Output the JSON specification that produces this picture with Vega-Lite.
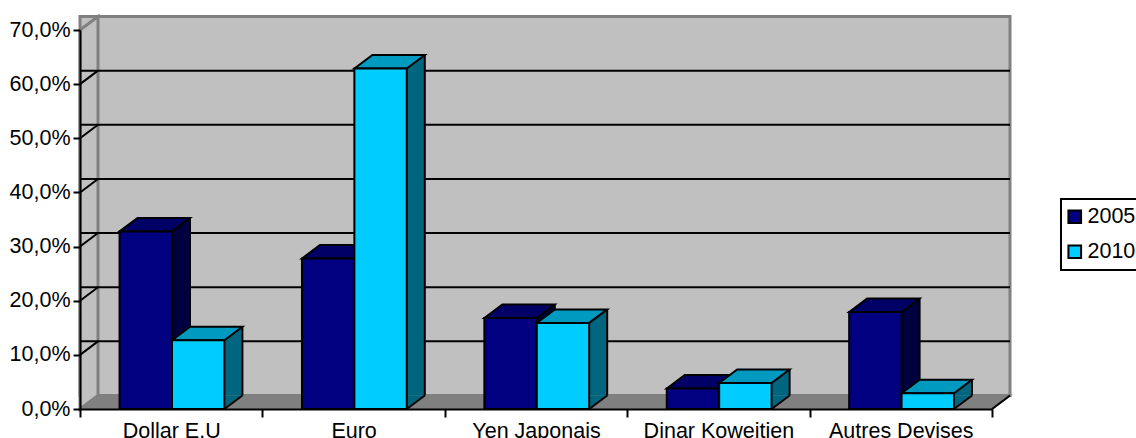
{
  "$schema": "https://vega.github.io/schema/vega-lite/v6.json",
  "width": 912,
  "height": 379,
  "autosize": {"type": "none"},
  "padding": {"left": 80, "top": 30, "right": 144, "bottom": 29},
  "background": "white",
  "config": {
    "view": {"stroke": null},
    "font": "Liberation Sans",
    "axis": {"labelFont": "Liberation Sans", "labelColor": "black", "labelFontSize": 21.5, "domainColor": "black", "tickColor": "black", "domainWidth": 2, "tickWidth": 2, "title": null, "grid": false},
    "legend": {"labelFont": "Liberation Sans", "labelColor": "black", "labelFontSize": 21.5, "strokeWidth": 2}
  },
  "datasets": {
    "shares": [
      {"devise": "Dollar E.U", "annee": "2005", "part": 32.8},
      {"devise": "Dollar E.U", "annee": "2010", "part": 12.7},
      {"devise": "Euro", "annee": "2005", "part": 27.8},
      {"devise": "Euro", "annee": "2010", "part": 62.9},
      {"devise": "Yen Japonais", "annee": "2005", "part": 16.8},
      {"devise": "Yen Japonais", "annee": "2010", "part": 15.9},
      {"devise": "Dinar Koweitien", "annee": "2005", "part": 3.8},
      {"devise": "Dinar Koweitien", "annee": "2010", "part": 4.8},
      {"devise": "Autres Devises", "annee": "2005", "part": 17.9},
      {"devise": "Autres Devises", "annee": "2010", "part": 2.9}
    ],
    "levels": [{"level": 10}, {"level": 20}, {"level": 30}, {"level": 40}, {"level": 50}, {"level": 60}],
    "frame": [{"bottom": 0, "top": 70}]
  },
  "data": {"name": "shares"},
  "layer": [
    {
      "data": {"name": "frame"},
      "mark": {"type": "rect", "fill": "#c0c0c0", "stroke": "#808080", "strokeWidth": 3, "xOffset": 18, "x2Offset": 18, "yOffset": -13.5, "y2Offset": -13.5},
      "encoding": {
        "y": {"field": "bottom", "type": "quantitative", "scale": {"domain": [0, 70], "nice": false}, "axis": {"values": [0, 10, 20, 30, 40, 50, 60, 70], "tickSize": 7, "labelPadding": 3, "zindex": 1, "labelExpr": "replace(format(datum.value, '.1f'), '.', ',') + '%'"}},
        "y2": {"field": "top"}
      }
    },
    {
      "data": {"name": "frame"},
      "mark": {"type": "point", "filled": true, "opacity": 1, "size": 4, "fill": "#c0c0c0", "stroke": "#808080", "strokeWidth": 3, "shape": "M0,0 L18,-13.5 L18,-392.5 L0,-379 Z"},
      "encoding": {
        "x": {"datum": "Dollar E.U", "type": "nominal", "bandPosition": 0},
        "y": {"field": "bottom", "type": "quantitative"}
      }
    },
    {
      "data": {"name": "frame"},
      "mark": {"type": "point", "filled": true, "opacity": 1, "size": 4, "fill": "#808080", "stroke": "#808080", "strokeWidth": 2, "shape": "M0,0 L18,-13.5 L930,-13.5 L912,0 Z"},
      "encoding": {
        "x": {"datum": "Dollar E.U", "type": "nominal", "bandPosition": 0},
        "y": {"field": "bottom", "type": "quantitative"}
      }
    },
    {
      "data": {"name": "frame"},
      "mark": {"type": "point", "filled": false, "opacity": 1, "size": 4, "stroke": "black", "strokeWidth": 2, "shape": "M0,0 L18,-13.5"},
      "encoding": {
        "x": {"datum": "Autres Devises", "type": "nominal", "bandPosition": 1},
        "y": {"field": "bottom", "type": "quantitative"}
      }
    },
    {
      "data": {"name": "levels"},
      "mark": {"type": "rule", "stroke": "black", "strokeWidth": 2, "xOffset": 18, "x2Offset": 18, "yOffset": -13.5},
      "encoding": {"y": {"field": "level", "type": "quantitative"}}
    },
    {
      "data": {"name": "levels"},
      "mark": {"type": "point", "filled": false, "opacity": 1, "size": 4, "stroke": "black", "strokeWidth": 2, "shape": "M0,0 L18,-13.5"},
      "encoding": {
        "x": {"datum": "Dollar E.U", "type": "nominal", "bandPosition": 0},
        "y": {"field": "level", "type": "quantitative"}
      }
    },
    {
      "transform": [{"filter": "datum.annee === '2005'"}],
      "encoding": {
        "x": {"field": "devise", "type": "nominal", "scale": {"domain": ["Dollar E.U", "Euro", "Yen Japonais", "Dinar Koweitien", "Autres Devises"], "paddingInner": 0, "paddingOuter": 0}, "axis": {"tickBand": "extent", "labelAngle": 0, "labelAlign": "center", "tickSize": 8, "labelPadding": 14, "zindex": 1, "title": null}},
        "xOffset": {"field": "annee", "type": "nominal", "scale": {"domain": ["2005", "2010"], "paddingInner": 0, "paddingOuter": 0.74, "align": 0.51}}
      },
      "layer": [
        {
          "mark": {"type": "rule", "yOffset": -13.5, "y2Offset": -13.5, "stroke": "#000040", "strokeWidth": 18},
          "encoding": {"xOffset": {"value": 101}, "y": {"field": "part", "type": "quantitative"}, "y2": {"datum": 0}}
        },
        {
          "mark": {"type": "rule", "yOffset": -13.5, "y2Offset": -13.5, "stroke": "black", "strokeWidth": 2},
          "encoding": {"xOffset": {"value": 110}, "y": {"field": "part", "type": "quantitative"}, "y2": {"datum": 0}}
        },
        {
          "mark": {"type": "point", "filled": true, "opacity": 1, "size": 4, "fill": "#000040", "strokeWidth": 0, "shape": "M44.2,-13.5 L26.2,0 L26.2,-13.5 Z"},
          "encoding": {"y": {"datum": 0, "type": "quantitative"}}
        },
        {
          "mark": {"type": "point", "filled": false, "opacity": 1, "size": 4, "stroke": "black", "strokeWidth": 2, "shape": "M26.2,0 L44.2,-13.5"},
          "encoding": {"y": {"datum": 0, "type": "quantitative"}}
        },
        {
          "mark": {"type": "point", "filled": true, "opacity": 1, "size": 4, "fill": "#000066", "stroke": "black", "strokeWidth": 2, "shape": "M-26.2,0 L-8.2,-13.5 L44.2,-13.5 L26.2,0 Z"},
          "encoding": {"y": {"field": "part", "type": "quantitative"}}
        },
        {
          "mark": {"type": "bar", "stroke": "black", "strokeWidth": 2},
          "encoding": {
            "y": {"field": "part", "type": "quantitative"},
            "fill": {"field": "annee", "type": "nominal", "scale": {"domain": ["2005", "2010"], "range": ["#000080", "#00ccff"]}, "legend": {"title": null, "orient": "none", "legendX": 981, "legendY": 169, "symbolType": "square", "symbolSize": 160, "symbolStrokeColor": "black", "symbolStrokeWidth": 2, "symbolOpacity": 1, "symbolOffset": -4, "strokeColor": "black", "padding": 7, "rowPadding": 12, "labelOffset": 2, "fillColor": "white"}}
          }
        }
      ]
    },
    {
      "transform": [{"filter": "datum.annee === '2010'"}],
      "encoding": {
        "x": {"field": "devise", "type": "nominal"},
        "xOffset": {"field": "annee", "type": "nominal"}
      },
      "layer": [
        {
          "mark": {"type": "rule", "yOffset": -13.5, "y2Offset": -13.5, "stroke": "#006680", "strokeWidth": 18},
          "encoding": {"xOffset": {"value": 153.4}, "y": {"field": "part", "type": "quantitative"}, "y2": {"datum": 0}}
        },
        {
          "mark": {"type": "rule", "yOffset": -13.5, "y2Offset": -13.5, "stroke": "black", "strokeWidth": 2},
          "encoding": {"xOffset": {"value": 162.4}, "y": {"field": "part", "type": "quantitative"}, "y2": {"datum": 0}}
        },
        {
          "mark": {"type": "point", "filled": true, "opacity": 1, "size": 4, "fill": "#006680", "strokeWidth": 0, "shape": "M44.2,-13.5 L26.2,0 L26.2,-13.5 Z"},
          "encoding": {"y": {"datum": 0, "type": "quantitative"}}
        },
        {
          "mark": {"type": "point", "filled": false, "opacity": 1, "size": 4, "stroke": "black", "strokeWidth": 2, "shape": "M26.2,0 L44.2,-13.5"},
          "encoding": {"y": {"datum": 0, "type": "quantitative"}}
        },
        {
          "mark": {"type": "point", "filled": true, "opacity": 1, "size": 4, "fill": "#0099bf", "stroke": "black", "strokeWidth": 2, "shape": "M-26.2,0 L-8.2,-13.5 L44.2,-13.5 L26.2,0 Z"},
          "encoding": {"y": {"field": "part", "type": "quantitative"}}
        },
        {
          "mark": {"type": "bar", "stroke": "black", "strokeWidth": 2},
          "encoding": {
            "y": {"field": "part", "type": "quantitative"},
            "fill": {"field": "annee", "type": "nominal"}
          }
        }
      ]
    }
  ]
}
